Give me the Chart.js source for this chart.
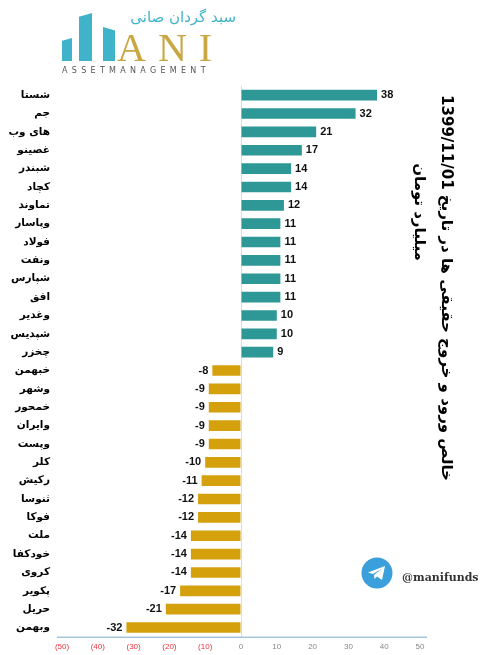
<!DOCTYPE html>
<html>
<head>
<meta charset="utf-8">
<script src="https://cdn.jsdelivr.net/npm/chart.js@4/dist/chart.umd.min.js"></script>
<style>
  body { margin: 0; background: #fff; }
  #wrap { position: relative; width: 490px; height: 655px; overflow: hidden; }
  #c { position: absolute; left: 0; top: 0; }
  .lbar { position: absolute; background: #3FB3C9; }
  .abs { position: absolute; white-space: nowrap; }
</style>
</head>
<body>
<div id="wrap">
  <canvas id="c" width="490" height="655"></canvas>

  <!-- logo -->
  <div class="lbar" style="left:62px;top:38px;width:10px;height:23px;clip-path:polygon(0 12%,100% 0,100% 100%,0 100%)"></div>
  <div class="lbar" style="left:79px;top:13px;width:13px;height:48px;clip-path:polygon(0 8%,100% 0,100% 100%,0 100%)"></div>
  <div class="lbar" style="left:103px;top:27px;width:12px;height:34px;clip-path:polygon(0 0,100% 10%,100% 100%,0 100%)"></div>
  <div class="abs" style="left:108px;top:8px;width:128px;text-align:right;direction:rtl;font:15px 'DejaVu Sans';color:#3FB3C9">سبد گردان صانی</div>
  <div class="abs" style="left:117px;top:24px;font:40px 'Liberation Serif';color:#C9A742;letter-spacing:12px">ANI</div>
  <div class="abs" style="left:62px;top:66px;font:8px 'DejaVu Sans';color:#555;letter-spacing:4.3px">ASSETMANAGEMENT</div>

  <!-- title -->
  <div class="abs" style="left:447px;top:288px;transform:translate(-50%,-50%) rotate(90deg);direction:rtl;font:bold 15px 'DejaVu Sans';color:#000">خالص ورود و خروج حقیقی ها در تاریخ 1399/11/01</div>
  <div class="abs" style="left:420px;top:212px;transform:translate(-50%,-50%) rotate(90deg);direction:rtl;font:bold 15px 'DejaVu Sans';color:#000">میلیارد تومان</div>

  <!-- telegram -->
  <svg class="abs" style="left:361px;top:557px" width="32" height="32" viewBox="0 0 32 32">
    <circle cx="16" cy="16" r="15.5" fill="#3A9FDA"/>
    <path d="M7 15.5 L24 9 L21 23 L16 19.5 L13.5 22 L13 18 L21 11.5 L12 17 Z" fill="#fff"/>
  </svg>
  <div class="abs" style="left:402px;top:571px;font:bold 11px 'DejaVu Serif';color:#333">@manifunds</div>
</div>

<script>
const symbols = ['شستا','جم','های وب','غصینو','شبندر','کچاد','تماوند','وپاسار','فولاد','ونفت',
  'شپارس','افق','وغدیر','شپدیس','چخزر','خبهمن','وشهر','خمحور','وایران','وپست',
  'کلر','رکیش','ثنوسا','فوکا','ملت','خودکفا','کروی','پکویر','حریل','وبهمن'];
const netFlow = [38,32,21,17,14,14,12,11,11,11,
  11,11,10,10,9,-8,-9,-9,-9,-9,
  -10,-11,-12,-12,-14,-14,-14,-17,-21,-32];
const xTicks = [-50,-40,-30,-20,-10,0,10,20,30,40,50];

const teal = '#2E9896';
const gold = '#D4A00C';

// value next to each bar end
const valueLabels = {
  id: 'valueLabels',
  afterDatasetsDraw(chart) {
    const ctx = chart.ctx;
    const meta = chart.getDatasetMeta(0);
    ctx.save();
    ctx.direction = 'ltr';
    ctx.font = 'bold 11px "Liberation Sans"';
    ctx.fillStyle = '#111';
    ctx.textBaseline = 'middle';
    meta.data.forEach((bar, i) => {
      const v = netFlow[i];
      ctx.textAlign = v >= 0 ? 'left' : 'right';
      ctx.fillText(String(v), v >= 0 ? bar.x + 4 : bar.x - 4, bar.y);
    });
    ctx.restore();
  }
};

const baseLine = {
  id: 'baseLine',
  afterDraw(chart) {
    const a = chart.chartArea;
    const ctx = chart.ctx;
    ctx.save();
    ctx.strokeStyle = '#78AACB';
    ctx.lineWidth = 1;
    ctx.beginPath();
    ctx.moveTo(a.left - 5, a.bottom + 0.5);
    ctx.lineTo(a.right + 7, a.bottom + 0.5);
    ctx.stroke();
    ctx.restore();
  }
};

new Chart(document.getElementById('c').getContext('2d'), {
  type: 'bar',
  data: {
    labels: symbols,
    datasets: [{
      data: netFlow,
      backgroundColor: netFlow.map(v => v >= 0 ? teal : gold),
      barPercentage: 0.58,
      categoryPercentage: 1
    }]
  },
  options: {
    indexAxis: 'y',
    responsive: false,
    animation: false,
    layout: { padding: { top: 86, right: 70, left: 0, bottom: 0 } },
    plugins: { legend: { display: false }, tooltip: { enabled: false } },
    scales: {
      x: {
        min: -50,
        max: 50,
        afterBuildTicks: s => { s.ticks = xTicks.map(v => ({ value: v })); },
        afterFit: s => { s.height = 17; },
        border: { display: false },
        grid: {
          drawTicks: false,
          color: c => c.tick && c.tick.value === 0 ? '#dcdcdc' : 'rgba(0,0,0,0)'
        },
        ticks: {
          padding: 5,
          font: { size: 8, family: 'Liberation Sans' },
          color: c => c.tick.value < 0 ? '#E8353F' : '#888',
          callback: v => v < 0 ? '(' + (-v) + ')' : v
        }
      },
      y: {
        afterFit: s => { s.width = 62; },
        border: { display: false },
        grid: { display: false, drawTicks: false },
        ticks: {
          padding: 12,
          font: { size: 10.5, weight: 'bold', family: 'DejaVu Sans' },
          color: '#000'
        }
      }
    }
  },
  plugins: [valueLabels, baseLine]
});
</script>
</body>
</html>
